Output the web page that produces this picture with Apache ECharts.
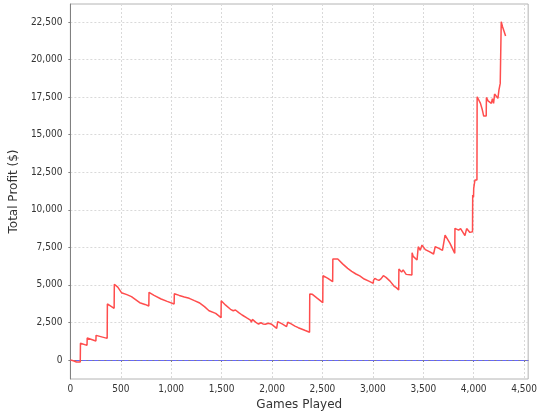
<!DOCTYPE html>
<html>
<head>
<meta charset="utf-8">
<script src="https://cdn.jsdelivr.net/npm/echarts@6/dist/echarts.min.js"></script>
<style>html,body{margin:0;padding:0;background:#fff;}#c{width:540px;height:420px;}</style>
</head>
<body>
<div id="c"></div>
<script>
var games = [0,30,60,98,100,165,167,253,255,365,367,434,436,470,507,560,606,650,688,740,778,780,830,900,960,1029,1031,1080,1130,1179,1230,1277,1330,1375,1441,1494,1496,1540,1588,1615,1637,1670,1703,1750,1785,1795,1805,1840,1866,1890,1910,1932,1945,1965,1997,2046,2056,2100,2144,2156,2190,2227,2260,2292,2330,2372,2374,2400,2450,2503,2505,2550,2601,2603,2652,2700,2750,2790,2832,2845,2870,2914,2960,3004,3006,3019,3040,3060,3080,3104,3130,3170,3209,3235,3256,3258,3285,3300,3330,3387,3389,3400,3438,3450,3470,3487,3520,3560,3602,3618,3650,3690,3700,3716,3765,3812,3814,3850,3870,3913,3930,3962,3988,3990,3998,4000,4010,4012,4032,4034,4045,4067,4086,4099,4124,4126,4142,4150,4158,4175,4185,4197,4207,4224,4240,4250,4263,4273,4285,4300,4316];
var profit = [0,-50,-130,-130,1110,975,1465,1265,1640,1440,3730,3440,5040,4850,4480,4350,4215,4000,3815,3700,3595,4505,4300,4060,3900,3730,4415,4300,4200,4105,3950,3815,3550,3280,3105,2820,3950,3650,3375,3280,3330,3150,2995,2800,2660,2520,2700,2500,2395,2480,2400,2375,2500,2450,2375,2110,2550,2400,2220,2510,2400,2260,2150,2065,1960,1845,4393,4370,4100,3815,5610,5450,5210,6720,6720,6400,6100,5900,5725,5800,5600,5390,5250,5105,5300,5440,5350,5300,5400,5610,5500,5250,4925,4800,4660,6055,5850,6000,5700,5655,7140,6900,6655,7540,7300,7650,7350,7210,7055,7540,7450,7300,7210,8320,7765,7100,8765,8650,8750,8275,8750,8495,8540,10980,10830,11430,11430,11980,11980,17525,17400,17085,16640,16240,16240,17480,17250,17150,17350,17085,17400,17085,17705,17780,17415,17970,18415,22520,22200,21900,21565];
var xTicks = [0,500,1000,1500,2000,2500,3000,3500,4000,4500];
var yTicks = [0,2500,5000,7500,10000,12500,15000,17500,20000,22500];

var data = games.map(function(g,i){return [g, profit[i]];});
var fmt = function(v){return Number(v).toLocaleString('en-US');};
var FONT = '"DejaVu Sans Condensed","DejaVu Sans",sans-serif';

var chart = echarts.init(document.getElementById('c'), null, {renderer:'canvas'});
chart.setOption({
  animation:false,
  backgroundColor:'#ffffff',
  grid:{left:70,right:8,top:4,bottom:41,show:true,borderColor:'#b4b4b4',borderWidth:1,backgroundColor:'#ffffff'},
  xAxis:{
    type:'value',min:0,max:4540,
    name:'Games Played',nameLocation:'middle',nameGap:19,
    nameTextStyle:{color:'#333',fontSize:12,fontFamily:'"DejaVu Sans",sans-serif'},
    axisLine:{show:true,lineStyle:{color:'#808080',width:1}},
    axisTick:{show:true,length:2,customValues:xTicks,lineStyle:{color:'#808080'}},
    axisLabel:{customValues:xTicks,formatter:fmt,color:'#333',fontSize:10,fontFamily:FONT,margin:5},
    splitLine:{show:true,lineStyle:{color:'#d9d9d9',type:[2,2],width:1}}
  },
  yAxis:{
    type:'value',min:-1265,max:23700,
    name:'Total Profit ($)',nameLocation:'middle',nameGap:46,
    nameTextStyle:{color:'#333',fontSize:12,fontFamily:'"DejaVu Sans",sans-serif'},
    axisLine:{show:true,lineStyle:{color:'#808080',width:1}},
    axisTick:{show:true,length:2,customValues:yTicks,lineStyle:{color:'#808080'}},
    axisLabel:{customValues:yTicks,formatter:fmt,color:'#333',fontSize:10,fontFamily:FONT,margin:8},
    splitLine:{show:true,lineStyle:{color:'#d9d9d9',type:[2,2],width:1}}
  },
  series:[{
    type:'line',data:data,showSymbol:false,z:3,
    lineStyle:{color:'#ff4d4d',width:1.5},
    itemStyle:{color:'#ff4d4d'},
    markLine:{silent:true,symbol:'none',label:{show:false},z:2,
      lineStyle:{color:'#6666ff',type:'dashed',dashOffset:0,width:1},
      data:[{yAxis:0}]}
  }]
});
</script>
</body>
</html>
